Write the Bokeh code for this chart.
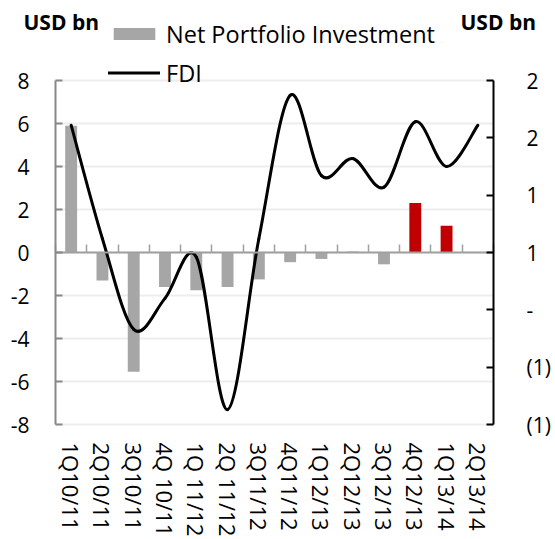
from bokeh.plotting import figure
from bokeh.models import (Range1d, LinearAxis, FixedTicker, CustomJSTickFormatter,
                          Legend, LegendItem, Label, ColumnDataSource)
from bokeh.embed import file_html
from bokeh.resources import INLINE

# ---------------- data ----------------
categories = ["1Q10/11", "2Q10/11", "3Q10/11", "4Q 10/11", "1Q 11/12", "2Q 11/12",
              "3Q11/12", "4Q11/12", "1Q12/13", "2Q12/13", "3Q12/13", "4Q12/13",
              "1Q13/14", "2Q13/14"]
net_portfolio = [5.9, -1.3, -5.55, -1.6, -1.75, -1.6, -1.25, -0.45, -0.3, 0.05,
                 -0.55, 2.3, 1.25, 0.0]
fdi = [1.61, 0.62, -0.17, 0.10, 0.46, -0.87, 0.62, 1.87, 1.17, 1.32, 1.07, 1.64,
       1.25, 1.61]
highlighted = ["4Q12/13", "1Q13/14"]
left_ticks = [-8, -6, -4, -2, 0, 2, 4, 6, 8]
right_ticks = [-1, -0.5, 0, 0.5, 1, 1.5, 2]

# ---------------- layout / style ----------------
W, H = 555, 539
PL, PR, PT, PB = 55, 493, 80, 424      # plot area in canvas pixels
FONT = "Open Sans"
GREY = "#a6a6a6"
RED = "#c00000"

n = len(categories)
xs = list(range(1, n + 1))
lmin, lmax = left_ticks[0], left_ticks[-1]
rmin, rmax = right_ticks[0], right_ticks[-1]
cw = (PR - PL) / n                      # px per category
ly = (PB - PT) / (lmax - lmin)          # px per unit, left axis
ry = (PB - PT) / (rmax - rmin)          # px per unit, right axis

p = figure(width=W, height=H,
           x_range=Range1d(0.5 - PL / cw, n + 0.5 + (W - PR) / cw),
           y_range=Range1d(lmin - (H - PB) / ly, lmax + PT / ly),
           output_backend="svg", toolbar_location=None,
           x_axis_location=None, y_axis_location=None, min_border=0)
p.outline_line_color = None
p.background_fill_color = "white"
p.border_fill_color = "white"
p.extra_y_ranges = {"fdi": Range1d(rmin - (H - PB) / ry, rmax + PT / ry)}

# gridlines (left-axis ticks), restricted to the plot area
p.xgrid.visible = False
p.ygrid.ticker = FixedTicker(ticks=left_ticks)
p.ygrid.cross_bounds = (0.5, n + 0.5)
p.ygrid.grid_line_color = "#ededed"
p.ygrid.grid_line_width = 2

def style_labels(ax, size="21px"):
    ax.major_label_text_font = FONT
    ax.major_label_text_font_size = size
    ax.major_label_text_color = "black"

# left axis
yax = LinearAxis(fixed_location=0.5, bounds=(lmin, lmax),
                 ticker=FixedTicker(ticks=left_ticks),
                 formatter=CustomJSTickFormatter(code="return tick.toFixed(0);"))
yax.major_tick_in = 7
yax.major_tick_out = 0
yax.minor_tick_line_color = None
yax.axis_line_color = "#888888"
yax.axis_line_width = 2
yax.major_tick_line_color = "#888888"
yax.major_tick_line_width = 2
yax.major_label_standoff = 26
style_labels(yax)
p.add_layout(yax, "left")

# right axis (FDI)
rax = LinearAxis(y_range_name="fdi", fixed_location=n + 0.5, bounds=(rmin, rmax),
                 ticker=FixedTicker(ticks=right_ticks),
                 formatter=CustomJSTickFormatter(code="""
                     if (Math.abs(tick) < 1e-9) { return "-"; }
                     const r = Math.round(Math.abs(tick));
                     return tick < 0 ? "(" + r + ")" : "" + r;
                 """))
rax.major_tick_in = 7
rax.major_tick_out = 0
rax.minor_tick_line_color = None
rax.axis_line_color = "black"
rax.axis_line_width = 2
rax.major_tick_line_color = "black"
rax.major_tick_line_width = 2
rax.major_label_standoff = 33
style_labels(rax)
p.add_layout(rax, "right")

# category axis line at zero, tick marks between categories
boundaries = [x - 0.5 for x in xs] + [xs[-1] + 0.5]
cax = LinearAxis(fixed_location=0, bounds=(0.5, n + 0.5),
                 ticker=FixedTicker(ticks=[], minor_ticks=boundaries))
cax.major_tick_line_color = None
cax.minor_tick_in = 8
cax.minor_tick_out = 0
cax.axis_line_color = "#a0a0a0"
cax.axis_line_width = 2
cax.minor_tick_line_color = "#a0a0a0"
cax.minor_tick_line_width = 1.5
p.add_layout(cax, "below")

# category labels below the plot area
lax = LinearAxis(fixed_location=lmin, ticker=FixedTicker(ticks=xs),
                 major_label_overrides={x: c for x, c in zip(xs, categories)})
lax.major_label_orientation = "vertical"
lax.axis_line_color = None
lax.major_tick_line_color = None
lax.minor_tick_line_color = None
lax.major_tick_out = 0
lax.major_tick_in = 0
lax.major_label_standoff = 18
style_labels(lax, "22px")
p.add_layout(lax, "below")

# bars
grey_src = ColumnDataSource(dict(
    x=[x for x, c in zip(xs, categories) if c not in highlighted],
    top=[v for v, c in zip(net_portfolio, categories) if c not in highlighted]))
red_src = ColumnDataSource(dict(
    x=[x for x, c in zip(xs, categories) if c in highlighted],
    top=[v for v, c in zip(net_portfolio, categories) if c in highlighted]))
grey = p.vbar(x="x", top="top", bottom=0, width=0.38, source=grey_src,
              fill_color=GREY, line_color=None)
red = p.vbar(x="x", top="top", bottom=0, width=0.38, source=red_src,
             fill_color=RED, line_color=None)

# smoothed FDI line (Catmull-Rom style bezier segments through the data points)
seg = dict(x0=[], y0=[], x1=[], y1=[], cx0=[], cy0=[], cx1=[], cy1=[])
for i in range(n - 1):
    a = i - 1 if i > 0 else i
    d = i + 2 if i + 2 < n else i + 1
    seg["x0"].append(xs[i]); seg["y0"].append(fdi[i])
    seg["x1"].append(xs[i + 1]); seg["y1"].append(fdi[i + 1])
    seg["cx0"].append(xs[i] + (xs[i + 1] - xs[a]) / 6)
    seg["cy0"].append(fdi[i] + (fdi[i + 1] - fdi[a]) / 6)
    seg["cx1"].append(xs[i + 1] - (xs[d] - xs[i]) / 6)
    seg["cy1"].append(fdi[i + 1] - (fdi[d] - fdi[i]) / 6)
curve = p.bezier(x0="x0", y0="y0", x1="x1", y1="y1", cx0="cx0", cy0="cy0",
                 cx1="cx1", cy1="cy1", source=ColumnDataSource(seg),
                 y_range_name="fdi", line_color="black", line_width=3,
                 line_cap="round")

# legend
legend = Legend(items=[LegendItem(label="Net Portfolio Investment", renderers=[grey]),
                       LegendItem(label="FDI", renderers=[curve])],
                location=(108, H - 92), orientation="vertical", padding=0, margin=0,
                spacing=0, glyph_width=52, glyph_height=15, label_height=39,
                label_standoff=6, label_text_font=FONT, label_text_font_size="23.5px",
                label_text_color="black", border_line_color=None,
                background_fill_alpha=0)
p.add_layout(legend, "center")

# axis unit titles
for tx in (23, 460):
    p.add_layout(Label(x=tx, y=H - 21, x_units="screen", y_units="screen",
                       text="USD bn", text_font=FONT, text_font_style="bold",
                       text_font_size="21px", text_align="left",
                       text_baseline="alphabetic", text_color="black"))

open("out.html", "w").write(file_html(p, INLINE))
